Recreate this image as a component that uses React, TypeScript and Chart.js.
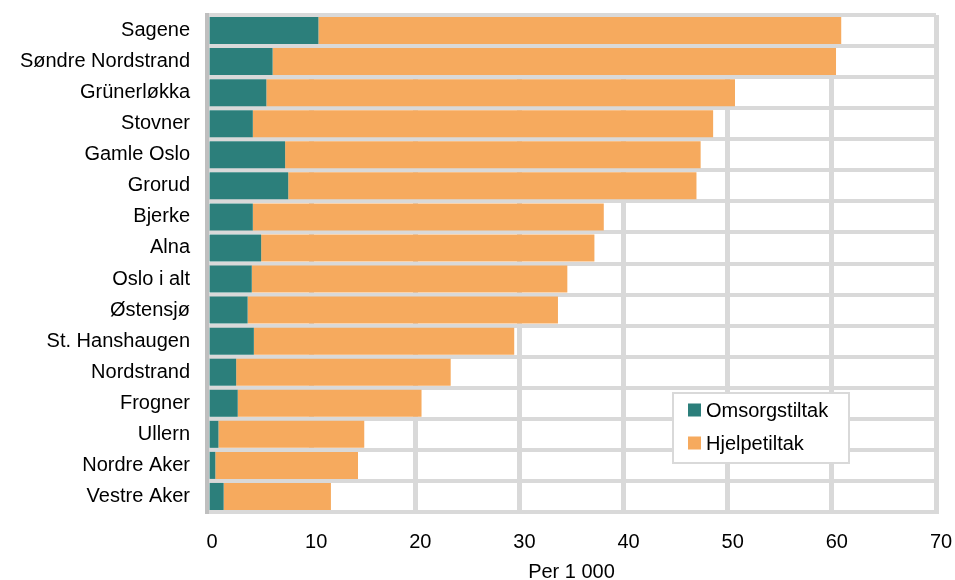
import React, { useEffect, useRef } from "react";
import { Chart, registerables } from "chart.js";

Chart.register(...registerables);

const categories = [
  "Sagene",
  "Søndre Nordstrand",
  "Grünerløkka",
  "Stovner",
  "Gamle Oslo",
  "Grorud",
  "Bjerke",
  "Alna",
  "Oslo i alt",
  "Østensjø",
  "St. Hanshaugen",
  "Nordstrand",
  "Frogner",
  "Ullern",
  "Nordre Aker",
  "Vestre Aker",
];

const omsorgstiltak = [10.7, 6.3, 5.7, 4.4, 7.5, 7.8, 4.4, 5.2, 4.3, 3.9, 4.5, 2.8, 2.95, 1.1, 0.8, 1.6];
const hjelpetiltak = [50.2, 54.1, 45.0, 44.2, 39.9, 39.2, 33.7, 32.0, 30.3, 29.8, 25.0, 20.6, 17.65, 14.0, 13.7, 10.3];

const seriesNames = ["Omsorgstiltak", "Hjelpetiltak"];
const seriesColors = ["#2C7F7B", "#F6AA5E"];

const xMin = 0;
const xMax = 70;
const xStep = 10;
const xTitle = "Per 1 000";

const FONT = "'Liberation Sans', Arial, sans-serif";
const GRID = "#D9D9D9";

const legendPlugin = {
  id: "insideLegend",
  afterDraw(chart: any) {
    const { ctx, chartArea } = chart;
    const boxW = 176;
    const boxH = 70;
    const left = chartArea.right - 263;
    const top = chartArea.bottom - 119;
    ctx.save();
    ctx.fillStyle = "#FFFFFF";
    ctx.fillRect(left, top, boxW, boxH);
    ctx.strokeStyle = GRID;
    ctx.lineWidth = 2;
    ctx.strokeRect(left, top, boxW, boxH);
    ctx.font = `20px ${FONT}`;
    ctx.textBaseline = "middle";
    ctx.textAlign = "left";
    chart.data.datasets.forEach((ds: any, i: number) => {
      const cy = top + 17 + i * 33;
      ctx.fillStyle = ds.backgroundColor;
      ctx.fillRect(left + 15, cy - 6.5, 13, 13);
      ctx.fillStyle = "#000000";
      ctx.fillText(ds.label, left + 33, cy + 1);
    });
    ctx.restore();
  },
};

export default function App() {
  const canvasRef = useRef<HTMLCanvasElement | null>(null);

  useEffect(() => {
    const canvas = canvasRef.current;
    if (!canvas) return;
    const chart = new Chart(canvas, {
      type: "bar",
      data: {
        labels: categories,
        datasets: [
          {
            label: seriesNames[0],
            data: omsorgstiltak,
            backgroundColor: seriesColors[0],
            borderWidth: 0,
            barPercentage: 0.87,
            categoryPercentage: 1,
          },
          {
            label: seriesNames[1],
            data: hjelpetiltak,
            backgroundColor: seriesColors[1],
            borderWidth: 0,
            barPercentage: 0.87,
            categoryPercentage: 1,
          },
        ],
      },
      options: {
        indexAxis: "y",
        animation: false,
        responsive: true,
        maintainAspectRatio: false,
        layout: { padding: { top: 15, right: 19, bottom: 0, left: 0 } },
        plugins: {
          legend: { display: false },
          tooltip: { enabled: false },
        },
        scales: {
          x: {
            stacked: true,
            min: xMin,
            max: xMax,
            afterFit: (scale: any) => {
              scale.height = 78;
              scale.paddingLeft = 0;
              scale.paddingRight = 0;
            },
            ticks: {
              stepSize: xStep,
              color: "#000000",
              font: { family: FONT, size: 20 },
              padding: 18,
              labelOffset: 5,
            },
            grid: {
              color: (c: any) => (c.tick && c.tick.value === 0 ? "rgba(0,0,0,0)" : GRID),
              lineWidth: 5,
              drawTicks: false,
            },
            border: { display: true, color: GRID, width: 4 },
            title: {
              display: true,
              text: xTitle,
              color: "#000000",
              font: { family: FONT, size: 20 },
              padding: { top: 6, bottom: 6 },
            },
          },
          y: {
            stacked: true,
            afterFit: (scale: any) => {
              scale.width = 207;
              scale.paddingTop = 0;
              scale.paddingBottom = 0;
            },
            ticks: {
              color: "#000000",
              font: { family: FONT, size: 20 },
              padding: 17,
            },
            grid: {
              color: GRID,
              lineWidth: 4,
              drawTicks: false,
              offset: true,
            },
            border: { display: true, color: "#BFBFBF", width: 4 },
          },
        },
      },
      plugins: [legendPlugin],
    });
    return () => chart.destroy();
  }, []);

  return (
    <div
      style={{
        position: "fixed",
        left: 0,
        top: 0,
        width: 955,
        height: 580,
        overflow: "hidden",
        background: "#FFFFFF",
      }}
    >
      <div style={{ position: "relative", width: 955, height: 590 }}>
        <canvas ref={canvasRef} />
      </div>
    </div>
  );
}
